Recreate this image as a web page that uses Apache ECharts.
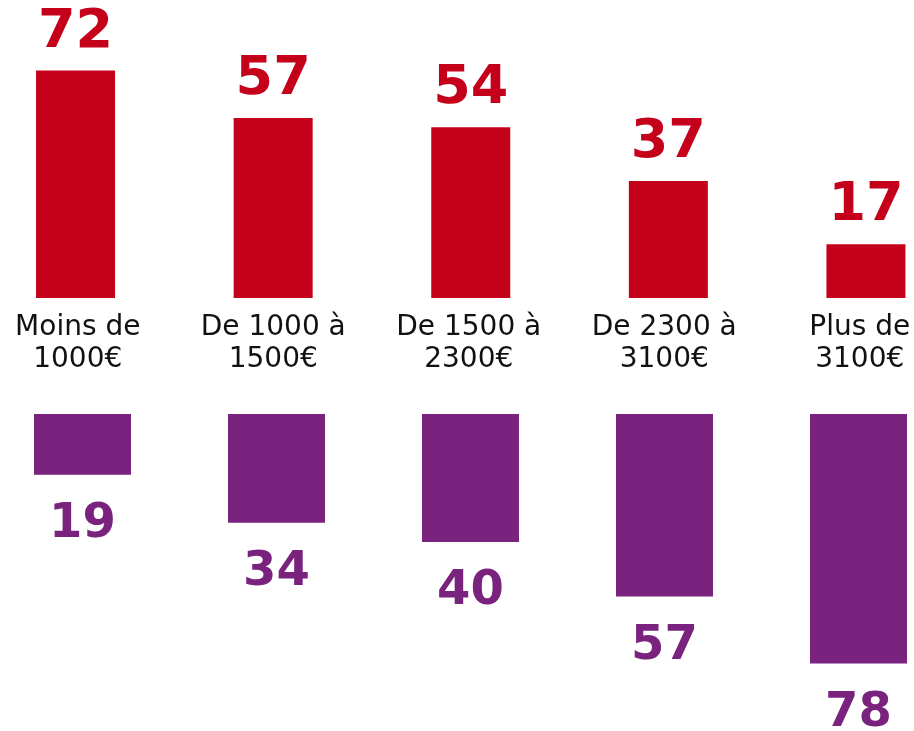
<!DOCTYPE html>
<html>
<head>
<meta charset="utf-8">
<script src="https://cdn.jsdelivr.net/npm/echarts@6/dist/echarts.min.js"></script>
<style>
html,body{margin:0;padding:0;background:#fff;}
#chart{width:914px;height:731px;}
</style>
</head>
<body>
<div id="chart"></div>
<script>
const categories = ['Moins de\n1000€', 'De 1000 à\n1500€', 'De 1500 à\n2300€', 'De 2300 à\n3100€', 'Plus de\n3100€'];
const topValues = [72, 57, 54, 37, 17];
const bottomValues = [19, 34, 40, 57, 78];

const RED = '#C5001A';
const PURPLE = '#79227E';
const FONT = '"DejaVu Sans", Verdana, sans-serif';

const chart = echarts.init(document.getElementById('chart'), null, {renderer: 'canvas'});
chart.setOption({
  animation: false,
  backgroundColor: '#ffffff',
  grid: [
    {left: -23.25, right: -50.75, top: 45.2, height: 252.8, outerBoundsMode: 'none', containLabel: false},
    {left: -14.5, right: -41.5, top: 414, height: 320, outerBoundsMode: 'none', containLabel: false},
    {left: -20, right: -43.5, top: 45.2, height: 252.8, outerBoundsMode: 'none', containLabel: false}
  ],
  xAxis: [
    {type: 'category', gridIndex: 0, data: categories, show: false},
    {type: 'category', gridIndex: 1, data: categories, show: false},
    {type: 'category', gridIndex: 2, data: categories,
     axisLine: {show: false}, axisTick: {show: false},
     axisLabel: {interval: 0, margin: 14, color: '#111', fontFamily: FONT, fontSize: 28, lineHeight: 32, hideOverlap: false}}
  ],
  yAxis: [
    {type: 'value', gridIndex: 0, min: 0, max: 80, show: false},
    {type: 'value', gridIndex: 1, min: 0, max: 100, inverse: true, show: false},
    {type: 'value', gridIndex: 2, min: 0, max: 80, show: false}
  ],
  series: [
    {type: 'bar', xAxisIndex: 0, yAxisIndex: 0, data: topValues, barWidth: 79,
     itemStyle: {color: RED},
     label: {show: true, position: 'top', distance: 11, color: RED, fontFamily: FONT, fontWeight: 'bold', fontSize: 54}},
    {type: 'bar', xAxisIndex: 1, yAxisIndex: 1, data: bottomValues, barWidth: 97,
     itemStyle: {color: PURPLE},
     label: {show: true, position: 'bottom', distance: 26, color: PURPLE, fontFamily: FONT, fontWeight: 'bold', fontSize: 48}}
  ]
});
</script>
</body>
</html>
